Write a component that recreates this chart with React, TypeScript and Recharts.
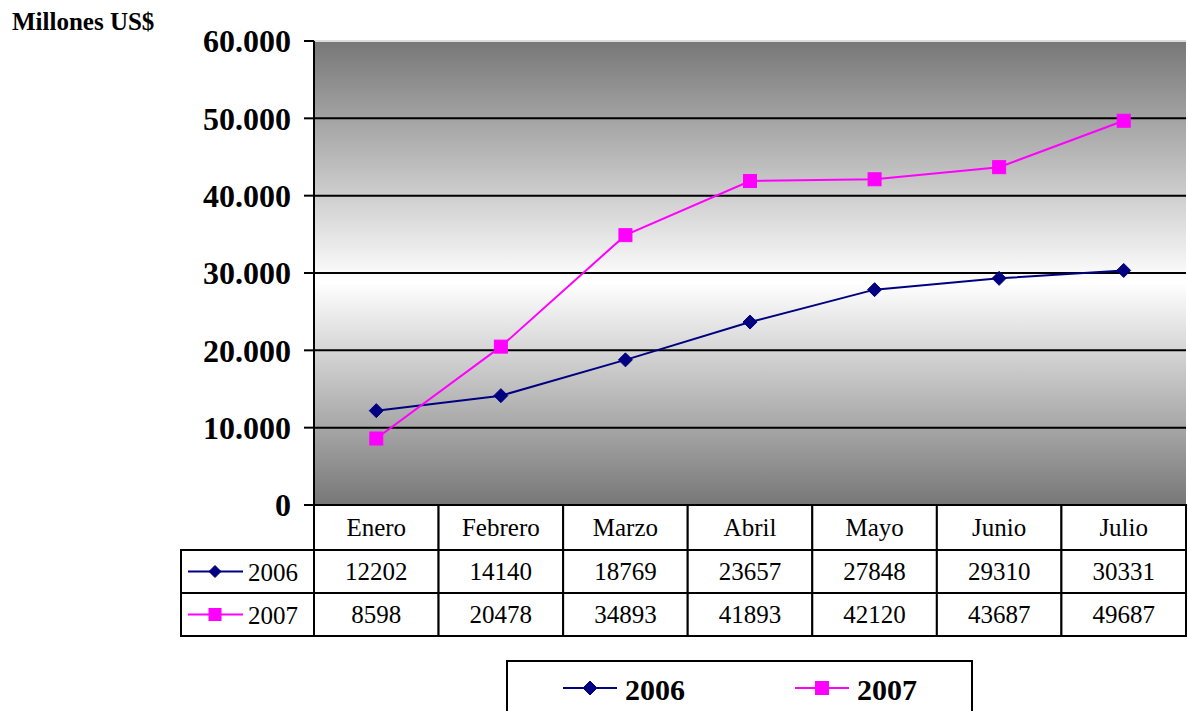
import React from 'react';
import { ComposedChart, Line, XAxis, YAxis, CartesianGrid, ReferenceLine } from 'recharts';

const months = ['Enero', 'Febrero', 'Marzo', 'Abril', 'Mayo', 'Junio', 'Julio'];
const values2006 = [12202, 14140, 18769, 23657, 27848, 29310, 30331];
const values2007 = [8598, 20478, 34893, 41893, 42120, 43687, 49687];
const seriesNames = ['2006', '2007'];
const seriesKeys = ['s2006', 's2007'];
const seriesColors = ['#000080', '#FF00FF'];
const yTicks = [0, 10000, 20000, 30000, 40000, 50000, 60000];
const yTitle = 'Millones US$';

const data = months.map((m, i) => ({ month: m, s2006: values2006[i], s2007: values2007[i] }));
const seriesValues = [values2006, values2007];

const W = 1188;
const H = 711;
const Y_AXIS_W = 314;
const X_AXIS_H = 206;
const MARGIN = { top: 41, right: 2, bottom: 0, left: 0 };
const PLOT_W = W - Y_AXIS_W - MARGIN.right;
const BW = PLOT_W / months.length;
const FONT = '"Liberation Serif", "Times New Roman", serif';

const fmt = (v: number) => String(v).replace(/\B(?=(\d{3})+(?!\d))/g, '.');

const Diamond = ({ cx, cy, color, r = 7 }: any) => (
  <polygon points={`${cx},${cy - r} ${cx + r},${cy} ${cx},${cy + r} ${cx - r},${cy}`} fill={color} stroke={color} strokeWidth={1} />
);
const Square = ({ cx, cy, color, s = 13 }: any) => (
  <rect x={cx - s / 2} y={cy - s / 2} width={s} height={s} fill={color} stroke={color} strokeWidth={1} />
);
const Marker = ({ i, cx, cy, small }: any) =>
  i === 0 ? <Diamond cx={cx} cy={cy} color={seriesColors[0]} r={small ? 6 : 7} /> : <Square cx={cx} cy={cy} color={seriesColors[1]} s={small ? 12 : 13} />;

const ROW_H = [45, 43, 43];

const TableTick = (props: any) => {
  const { x, y, payload, index } = props;
  const top = y;
  const left = x - BW / 2;
  const r1 = top + ROW_H[0];
  const r2 = r1 + ROW_H[1];
  const r3 = r2 + ROW_H[2];
  const i = index ?? payload.index;
  const cellText = { fontFamily: FONT, fontSize: 25, fill: '#000', textAnchor: 'middle' as const, dominantBaseline: 'central' as const };
  return (
    <g>
      <rect x={left} y={top} width={BW} height={ROW_H[0]} fill="#fff" stroke="#000" strokeWidth={2} />
      <rect x={left} y={r1} width={BW} height={ROW_H[1]} fill="#fff" stroke="#000" strokeWidth={2} />
      <rect x={left} y={r2} width={BW} height={ROW_H[2]} fill="#fff" stroke="#000" strokeWidth={2} />
      <text x={x} y={top + ROW_H[0] / 2} {...cellText}>{payload.value}</text>
      <text x={x} y={r1 + ROW_H[1] / 2} {...cellText}>{seriesValues[0][i]}</text>
      <text x={x} y={r2 + ROW_H[2] / 2} {...cellText}>{seriesValues[1][i]}</text>
      {i === 0 && (
        <g>
          {[0, 1].map((s) => {
            const ry = s === 0 ? r1 : r2;
            const cy = ry + ROW_H[s + 1] / 2;
            const lx = left - 133;
            return (
              <g key={s}>
                <rect x={lx} y={ry} width={133} height={ROW_H[s + 1]} fill="#fff" stroke="#000" strokeWidth={2} />
                <line x1={lx + 7} y1={cy} x2={lx + 62} y2={cy} stroke={seriesColors[s]} strokeWidth={2} />
                <Marker i={s} cx={lx + 34} cy={cy} small />
                <text x={lx + 67} y={cy + 1} fontFamily={FONT} fontSize={25} fill="#000" dominantBaseline="central">{seriesNames[s]}</text>
              </g>
            );
          })}
          <g>
            <rect x={507} y={r3 + 25} width={465} height={80} fill="#fff" stroke="#000" strokeWidth={2} />
            {[0, 1].map((s) => {
              const lx = s === 0 ? 563 : 795;
              const cy = r3 + 52;
              return (
                <g key={s}>
                  <line x1={lx} y1={cy} x2={lx + 54} y2={cy} stroke={seriesColors[s]} strokeWidth={2} />
                  <Marker i={s} cx={lx + 27} cy={cy} />
                  <text x={lx + 62} y={cy + 1} fontFamily={FONT} fontSize={30} fontWeight="bold" fill="#000" dominantBaseline="central">{seriesNames[s]}</text>
                </g>
              );
            })}
          </g>
          <text x={12} y={30} fontFamily={FONT} fontSize={25} fontWeight="bold" fill="#000">{yTitle}</text>
        </g>
      )}
    </g>
  );
};

export default function App() {
  return (
    <div style={{ position: 'absolute', left: 0, top: 0, width: W, height: H, background: '#fff' }}>
      <ComposedChart width={W} height={H} data={data} margin={MARGIN}>
        <defs>
          <linearGradient id="bg" x1="0" y1="0" x2="0" y2="1">
            <stop offset="0%" stopColor="#777777" />
            <stop offset="52%" stopColor="#ffffff" />
            <stop offset="100%" stopColor="#777777" />
          </linearGradient>
        </defs>
        <CartesianGrid horizontal={false} vertical={false} fill="url(#bg)" fillOpacity={1} />
        {yTicks.slice(1, -1).map((t) => (
          <ReferenceLine key={t} y={t} stroke="#000" strokeWidth={2} />
        ))}
        <ReferenceLine y={60000} stroke="#dddddd" strokeWidth={2} />
        <XAxis
          dataKey="month"
          height={X_AXIS_H}
          interval={0}
          padding={{ left: BW / 2, right: BW / 2 }}
          tickLine={false}
          axisLine={false}
          tickSize={0}
          tickMargin={0}
          tick={<TableTick />}
        />
        <YAxis
          width={Y_AXIS_W}
          domain={[0, 60000]}
          ticks={yTicks}
          interval={0}
          tickFormatter={fmt}
          tickSize={10}
          tickMargin={13}
          axisLine={{ stroke: '#000', strokeWidth: 2 }}
          tickLine={{ stroke: '#000', strokeWidth: 2 }}
          tick={{ fontFamily: FONT, fontSize: 32, fontWeight: 'bold', fill: '#000' }}
        />
        {seriesKeys.map((k, s) => (
          <Line
            key={k}
            dataKey={k}
            name={seriesNames[s]}
            stroke={seriesColors[s]}
            strokeWidth={2}
            isAnimationActive={false}
            dot={(p: any) => <Marker key={`${k}-${p.index}`} i={s} cx={p.cx} cy={p.cy} />}
            activeDot={false}
          />
        ))}
      </ComposedChart>
    </div>
  );
}
